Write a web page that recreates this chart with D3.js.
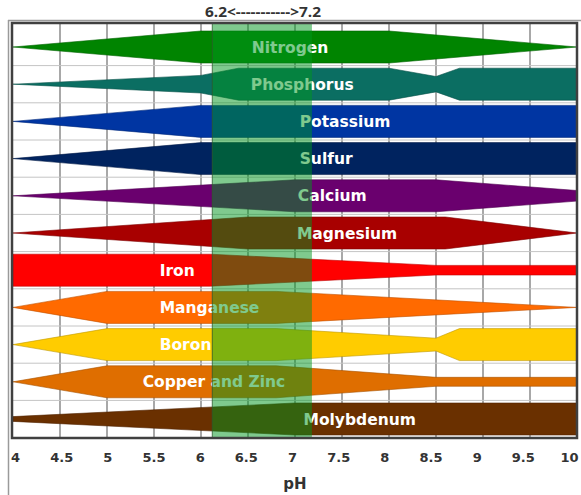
<!DOCTYPE html>
<html><head><meta charset="utf-8">
<script src="https://cdn.jsdelivr.net/npm/d3@7"></script>
<style>html,body{margin:0;padding:0;background:#fff;}svg{display:block;}</style>
</head><body>
<svg id="chart" width="581" height="495"></svg>
<script>
// ---- data ----
const nutrients = ["Nitrogen","Phosphorus","Potassium","Sulfur","Calcium","Magnesium","Iron","Manganese","Boron","Copper and Zinc","Molybdenum"];
// availability profiles: [pH, relative availability 0..1]
const nitrogen   = [[4,0],[6,1],[8,1],[10,0]];
const phosphorus = [[4,0],[6,0.55],[6.4,1],[8,1],[8.5,0.48],[8.75,1],[10,1]];
const potassium  = [[4,0],[6,1],[10,1]];
const sulfur     = [[4,0],[6,1],[10,1]];
const calcium    = [[4,0],[7,1],[8.5,1],[10,0.33]];
const magnesium  = [[4,0],[6.5,1],[8.6,1],[10,0]];
const iron       = [[4,1],[6.1,1],[8.5,0.3],[10,0.3]];
const manganese  = [[4,0],[5,1],[6.8,1],[10,0]];
const boron      = [[4,0],[5,1],[6.8,1],[8.5,0.4],[8.75,1],[10,1]];
const copperZinc = [[4,0],[5,1],[6.8,1],[8.5,0.28],[10,0.28]];
const molybdenum = [[4,0.15],[7,1],[10,1]];
const profiles = [nitrogen,phosphorus,potassium,sulfur,calcium,magnesium,iron,manganese,boron,copperZinc,molybdenum];
const tickValues = [4,4.5,5,5.5,6,6.5,7,7.5,8,8.5,9,9.5,10];
const tickLabels = ["4","4.5","5","5.5","6","6.5","7","7.5","8","8.5","9","9.5","10"];
const optimalRange = [6.12, 7.18];
const rangeLabel = "6.2<----------->7.2";
const axisTitle = "pH";

// ---- styles / layout ----
const colors = ["#008400","#0b6e62","#0035a2","#00235f","#6a006e","#a80000","#ff0000","#ff6a00","#ffcc00","#df6e00","#6a3000"];
const labelPH = [6.54,6.53,7.05,7.05,7.03,7.02,5.56,5.56,5.56,5.38,7.09];

const svg = d3.select("#chart");
const x = d3.scaleLinear().domain([4,10]).range([13,577]);
const xl = d3.scaleLinear().domain([4,10]).range([15,569]);
const y = d3.scalePoint().domain(nutrients).range([47,419]);
const plotTop = 23, plotBottom = 438, half = 16;

// outer light frame
svg.append("line").attr("x1",8.5).attr("x2",8.5).attr("y1",20).attr("y2",495).attr("stroke","#9a9a9a").attr("stroke-width",1.5);
svg.append("line").attr("x1",8).attr("x2",581).attr("y1",20.5).attr("y2",20.5).attr("stroke","#9a9a9a").attr("stroke-width",1.5);

// grid
const grid = svg.append("g");
grid.selectAll("line.v").data(tickValues.filter(v=>v>4&&v<10)).join("line")
  .attr("x1",d=>x(d)).attr("x2",d=>x(d)).attr("y1",plotTop).attr("y2",plotBottom)
  .attr("stroke","#a8a8a8").attr("stroke-width",2);
const bounds = d3.pairs(nutrients).map(([a,b])=>(y(a)+y(b))/2);
grid.selectAll("line.h").data(bounds).join("line")
  .attr("x1",x(4)).attr("x2",x(10)).attr("y1",d=>d).attr("y2",d=>d)
  .attr("stroke","#c4c4c4").attr("stroke-width",1);

// bands
nutrients.forEach((n,i)=>{
  const cy = y(n);
  const area = d3.area()
    .x(d=>x(d[0]))
    .y0(d=>cy - half*d[1])
    .y1(d=>cy + half*d[1]);
  svg.append("path").datum(profiles[i]).attr("d",area)
    .attr("fill",colors[i]).attr("stroke",d3.color(colors[i]).darker(0.8)).attr("stroke-width",0.6);
});

// labels
svg.append("g").selectAll("text").data(nutrients).join("text")
  .attr("x",(d,i)=>x(labelPH[i])).attr("y",d=>y(d)+5.5)
  .attr("fill","#fff").attr("font-family","DejaVu Sans").attr("font-weight","bold")
  .attr("font-size",15.5).text(d=>d);

// optimal range overlay
svg.append("rect").attr("x",x(optimalRange[0])).attr("y",plotTop)
  .attr("width",x(optimalRange[1])-x(optimalRange[0])).attr("height",plotBottom-plotTop)
  .attr("fill","rgb(0,150,30)").attr("fill-opacity",0.5);
svg.append("line").attr("x1",x(optimalRange[0])).attr("x2",x(optimalRange[0]))
  .attr("y1",plotTop).attr("y2",plotBottom).attr("stroke","#2d5a2d").attr("stroke-width",0.8);

// plot frame
svg.append("rect").attr("x",x(4)-1).attr("y",plotTop).attr("width",x(10)-x(4)+1).attr("height",plotBottom-plotTop)
  .attr("fill","none").attr("stroke","#404040").attr("stroke-width",2.5);

// axis
const axis = d3.axisBottom(xl).tickValues(tickValues).tickFormat((d,i)=>tickLabels[i]).tickSize(0).tickPadding(0);
const ag = svg.append("g").attr("transform","translate(0,453)").call(axis);
ag.select(".domain").remove();
ag.selectAll("text").attr("font-family","DejaVu Sans").attr("font-weight","bold")
  .attr("font-size",13).attr("fill","#333").attr("dy","0.71em");

svg.append("text").attr("x",295).attr("y",489).attr("text-anchor","middle")
  .attr("font-family","DejaVu Sans").attr("font-weight","bold").attr("font-size",15)
  .attr("fill","#333").text(axisTitle);

svg.append("text").attr("x",205).attr("y",17)
  .attr("font-family","Open Sans").attr("font-weight","bold").attr("font-size",13.5)
  .attr("fill","#333").attr("textLength",116).attr("lengthAdjust","spacingAndGlyphs").text(rangeLabel);
</script>
</body></html>
